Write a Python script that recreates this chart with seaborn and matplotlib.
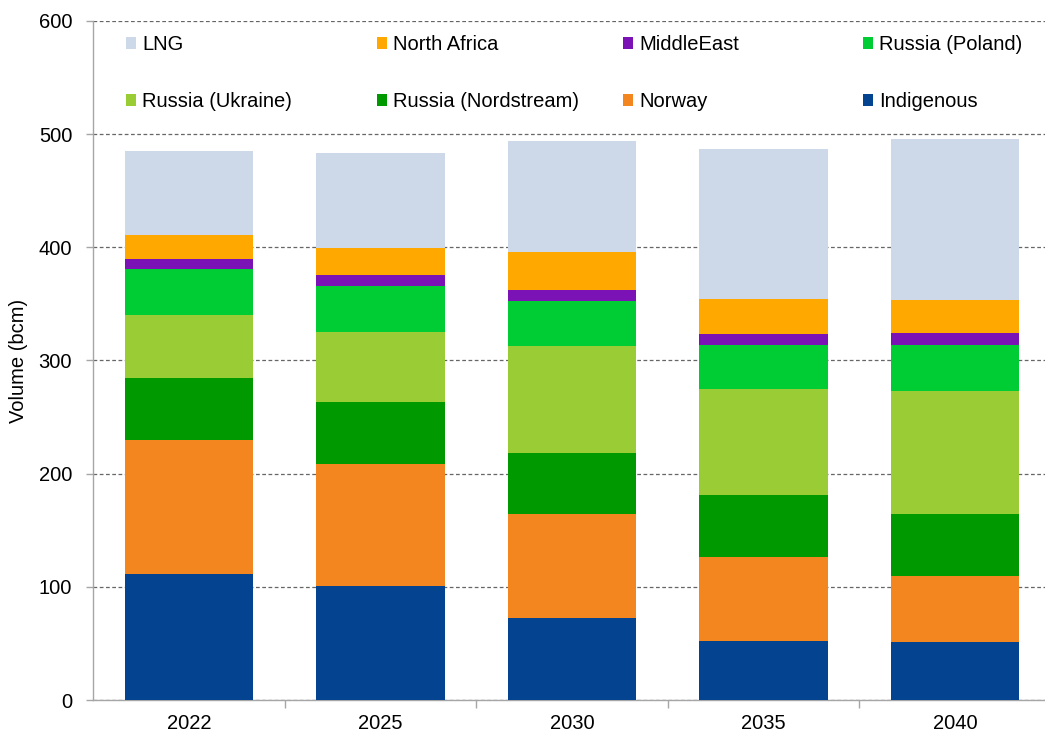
import numpy as np
import pandas as pd
import matplotlib
matplotlib.use("Agg")
import matplotlib.pyplot as plt
from matplotlib.patches import Patch
from matplotlib.legend import Legend
import seaborn as sns

years = ["2022", "2025", "2030", "2035", "2040"]

# Supply by source (bcm), bottom of the stack first
indigenous = [111.7, 100.5, 72.5, 52.2, 51.5]
norway = [117.9, 108.2, 91.7, 74.2, 58.4]
russia_nordstream = [54.8, 54.8, 54.5, 54.9, 54.6]
russia_ukraine = [56.0, 62.0, 93.7, 93.4, 108.7]
russia_poland = [40.4, 40.5, 40.4, 39.4, 40.4]
middle_east = [8.5, 9.5, 9.7, 9.5, 10.9]
north_africa = [21.6, 23.9, 33.3, 31.0, 29.2]
lng = [74.5, 84.0, 97.8, 132.6, 141.7]

series = [
    ("Indigenous", indigenous, "#03438F"),
    ("Norway", norway, "#F4861F"),
    ("Russia (Nordstream)", russia_nordstream, "#009A00"),
    ("Russia (Ukraine)", russia_ukraine, "#9ACD35"),
    ("Russia (Poland)", russia_poland, "#00CC33"),
    ("MiddleEast", middle_east, "#7B12B5"),
    ("North Africa", north_africa, "#FFA900"),
    ("LNG", lng, "#CDD8E8"),
]

sns.set_theme(style="white")
plt.rcParams["font.family"] = ["Liberation Sans", "DejaVu Sans"]
plt.rcParams.update({"text.color": "black", "axes.labelcolor": "black",
                     "xtick.labelcolor": "black", "ytick.labelcolor": "black"})

FS = 14.5

fig = plt.figure(figsize=(10.45, 7.36), dpi=100)
ax = fig.add_axes([93 / 1045, 1 - 700 / 736, 958 / 1045, (700 - 21) / 736])

# Cumulative totals, drawn from the top layer down so each layer covers the one above
cum = np.cumsum(np.array([s[1] for s in series]), axis=0)
for (name, _, color), tops in reversed(list(zip(series, cum))):
    df = pd.DataFrame({"year": years, "value": tops})
    sns.barplot(data=df, x="year", y="value", color=color, width=0.67,
                saturation=1, linewidth=0, ax=ax, zorder=3)

ax.set_ylim(0, 600)
ax.set_xlim(-0.5, 4.5)
ax.set_yticks(np.arange(0, 601, 100))
ax.yaxis.grid(True, linestyle=(0, (3, 2)), color="#666666", linewidth=0.9, zorder=0)
ax.xaxis.grid(False)
ax.set_axisbelow(True)

for side in ["top", "right"]:
    ax.spines[side].set_visible(False)
for side in ["left", "bottom"]:
    ax.spines[side].set_color("#A6A6A6")
    ax.spines[side].set_linewidth(1.0)

ax.set_xlabel("")
ax.set_ylabel("Volume (bcm)", fontsize=FS, labelpad=8)
ax.tick_params(axis="y", length=5, width=1, color="#A6A6A6", labelsize=FS, pad=10, left=True)
ax.tick_params(axis="x", which="major", length=0, labelsize=FS, pad=10)
ax.set_xticks(np.arange(0.5, 4.5, 1.0), minor=True)
ax.tick_params(axis="x", which="minor", length=6, width=1, color="#A6A6A6", bottom=True)

# Legend: four equally spaced columns of two entries each
colors = {name: c for name, _, c in series}
legend_cols = [
    ["LNG", "Russia (Ukraine)"],
    ["North Africa", "Russia (Nordstream)"],
    ["MiddleEast", "Norway"],
    ["Russia (Poland)", "Indigenous"],
]
col_x = [126, 377, 623, 863]
for names, px in zip(legend_cols, col_x):
    handles = [Patch(facecolor=colors[n], edgecolor="none", label=n) for n in names]
    leg = Legend(ax, handles, names, loc="upper left",
                 bbox_to_anchor=((px - 93) / 958, 1 - 14 / 679),
                 frameon=False, fontsize=FS, handlelength=0.5, handleheight=0.5,
                 handletextpad=0.3, labelspacing=1.9,
                 borderaxespad=0, borderpad=0)
    ax.add_artist(leg)

fig.savefig("out.png", dpi=100)
